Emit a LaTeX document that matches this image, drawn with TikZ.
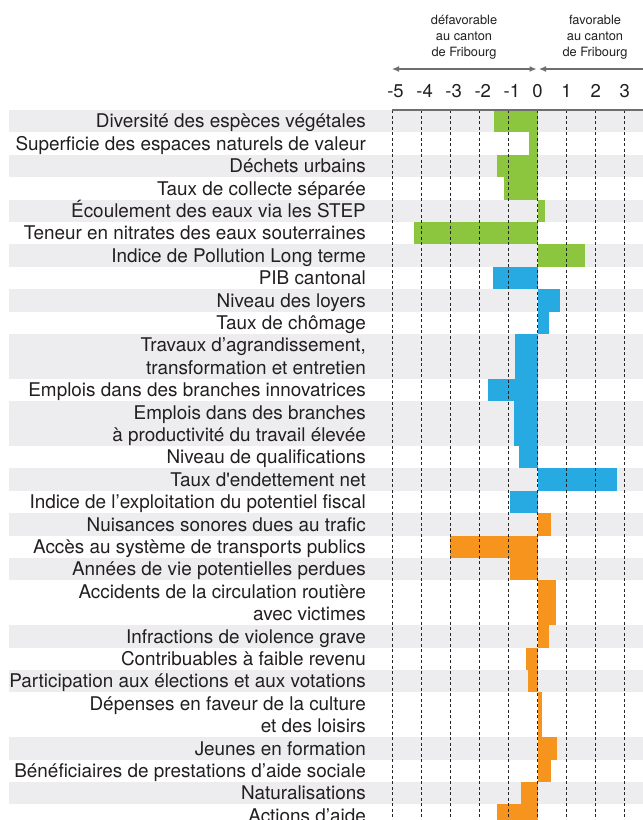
\documentclass[tikz,border=0pt]{standalone}
\usepackage{fontspec}
\setmainfont{TeX Gyre Heros}
\usetikzlibrary{arrows.meta}
\definecolor{cgreen}{HTML}{8CC63F}
\definecolor{cblue}{HTML}{27AAE1}
\definecolor{corange}{HTML}{F7941D}
\definecolor{cband}{HTML}{EDECEF}
\definecolor{cline}{HTML}{6D6E71}
\definecolor{ctext}{HTML}{231F20}
\def\ytop{110}
\def\rh{22.4}
\def\xz{537.5}
\def\ux{29.1}
\newcommand\rowone[6]{%
  \pgfmathsetmacro\ya{\ytop+#2*\rh}%
  \pgfmathsetmacro\yb{\ya+\rh}%
  \pgfmathsetmacro\yc{\ya+\rh/2+6.6}%
  \pgfmathsetmacro\xv{\xz+#4*\ux}%
  \fill[#3] (9,\ya) rectangle (643,\yb);
  \fill[#5] (\xz,\ya) rectangle (\xv,\yb);
  \node[lbl] (#1) at (366,\yc) {#6};
}
\newcommand\rowtwo[7]{%
  \pgfmathsetmacro\ya{\ytop+#2*\rh}%
  \pgfmathsetmacro\yb{\ya+2*\rh}%
  \pgfmathsetmacro\yc{\ya+\rh/2+6.6}%
  \pgfmathsetmacro\yd{\ya+1.5*\rh+6.6}%
  \pgfmathsetmacro\xv{\xz+#4*\ux}%
  \fill[#3] (9,\ya) rectangle (643,\yb);
  \fill[#5] (\xz,\ya) rectangle (\xv,\yb);
  \node[lbl] (#1) at (366,\yc) {#6};
  \node[lbl] (#1b) at (366,\yd) {#7};
}
\begin{document}
\begin{tikzpicture}[x=1pt,y=-1pt,
  lbl/.style={anchor=base east,inner sep=0pt,text=ctext,font=\fontsize{18.9}{22}\selectfont},
  hdr/.style={align=center,inner sep=0pt,text=ctext,font=\fontsize{12.8}{15.8}\selectfont},
  num/.style={inner sep=0pt,anchor=base,text=ctext,font=\fontsize{18.5}{22}\selectfont},
  axarrow/.style={draw=cline,line width=1.2pt,-{Latex[length=7pt,width=6pt]}},
  grid/.style={draw=black!85,line width=0.7pt,dash pattern=on 3pt off 2.5pt}]
\useasboundingbox (0,0) rectangle (643,820);
\clip (0,0) rectangle (643,820);
\fill[white] (0,0) rectangle (643,820);
% header
\node[hdr] (hd) at (464,37) {défavorable\\au canton\\de Fribourg};
\node[hdr] (hf) at (595,37) {favorable\\au canton\\de Fribourg};
\coordinate (al) at (392,69);
\coordinate (ar) at (536.5,69);
\coordinate (bl) at (539,69);
\coordinate (br) at (690,69);
\draw[axarrow,{Latex[length=7pt,width=6pt]}-{Latex[length=7pt,width=6pt]}] (al) -- (ar);
\draw[axarrow,{Latex[length=7pt,width=6pt]}-] (bl) -- (br);
% axis numbers
\node[num] (n5) at (395.5,97.5) {-5};
\node[num] (n4) at (424.6,97.5) {-4};
\node[num] (n3) at (453.7,97.5) {-3};
\node[num] (n2) at (482.8,97.5) {-2};
\node[num] (n1) at (511.9,97.5) {-1};
\node[num] (n0) at (537.5,97.5) {0};
\node[num] (p1) at (566.6,97.5) {1};
\node[num] (p2) at (595.7,97.5) {2};
\node[num] (p3) at (624.8,97.5) {3};
\node[num] (p4) at (653.9,97.5) {4};
% rows
\rowone{r0}{0}{cband}{-1.48}{cgreen}{Diversité des espèces végétales}
\rowone{r1}{1}{white}{-0.30}{cgreen}{Superficie des espaces naturels de valeur}
\rowone{r2}{2}{cband}{-1.38}{cgreen}{Déchets urbains}
\rowone{r3}{3}{white}{-1.14}{cgreen}{Taux de collecte séparée}
\rowone{r4}{4}{cband}{0.27}{cgreen}{Écoulement des eaux via les STEP}
\rowone{r5}{5}{white}{-4.25}{cgreen}{Teneur en nitrates des eaux souterraines}
\rowone{r6}{6}{cband}{1.62}{cgreen}{Indice de Pollution Long terme}
\rowone{r7}{7}{white}{-1.54}{cblue}{PIB cantonal}
\rowone{r8}{8}{cband}{0.78}{cblue}{Niveau des loyers}
\rowone{r9}{9}{white}{0.40}{cblue}{Taux de chômage}
\rowtwo{r10}{10}{cband}{-0.78}{cblue}{Travaux d’agrandissement,}{transformation et entretien}
\rowone{r12}{12}{white}{-1.71}{cblue}{Emplois dans des branches innovatrices}
\rowtwo{r13}{13}{cband}{-0.82}{cblue}{Emplois dans des branches}{à productivité du travail élevée}
\rowone{r15}{15}{white}{-0.64}{cblue}{Niveau de qualifications}
\rowone{r16}{16}{cband}{2.74}{cblue}{Taux d\textquotesingle endettement net}
\rowone{r17}{17}{white}{-0.96}{cblue}{Indice de l’exploitation du potentiel fiscal}
\rowone{r18}{18}{cband}{0.45}{corange}{Nuisances sonores dues au trafic}
\rowone{r19}{19}{white}{-3.01}{corange}{Accès au système de transports publics}
\rowone{r20}{20}{cband}{-0.96}{corange}{Années de vie potentielles perdues}
\rowtwo{r21}{21}{white}{0.64}{corange}{Accidents de la circulation routière}{avec victimes}
\rowone{r23}{23}{cband}{0.40}{corange}{Infractions de violence grave}
\rowone{r24}{24}{white}{-0.40}{corange}{Contribuables à faible revenu}
\rowone{r25}{25}{cband}{-0.32}{corange}{Participation aux élections et aux votations}
\rowtwo{r26}{26}{white}{0.16}{corange}{Dépenses en faveur de la culture}{et des loisirs}
\rowone{r28}{28}{cband}{0.66}{corange}{Jeunes en formation}
\rowone{r29}{29}{white}{0.47}{corange}{Bénéficiaires de prestations d’aide sociale}
\rowone{r30}{30}{cband}{-0.58}{corange}{Naturalisations}
\rowone{r31}{31}{white}{-1.40}{corange}{Actions d’aide}
% grid
\foreach \k in {0,...,8}{
  \pgfmathsetmacro\xg{392+\k*29.1}
  \draw[grid] (\xg,110) -- (\xg,830);
}
\draw[draw=cline,line width=1.3pt] (392,110) -- (650,110);
\end{tikzpicture}
\end{document}
